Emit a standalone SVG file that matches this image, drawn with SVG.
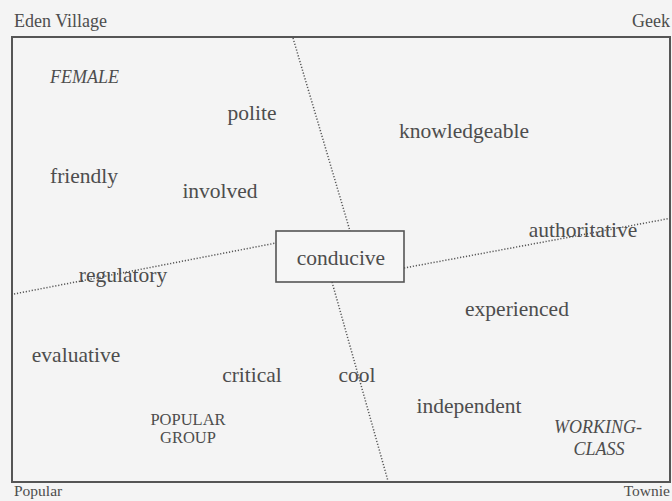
<svg xmlns="http://www.w3.org/2000/svg" width="672" height="501" viewBox="0 0 672 501">
  <style>
    .t { font-family: "Liberation Serif", "Times New Roman", serif; fill: #4d4d4d; }
    .corner { font-size: 18px; }
    .foot { font-size: 15.5px; }
    .word { font-size: 21.5px; }
    .cap { font-size: 16.5px; }
    .it { font-style: italic; font-size: 18px; }
    .dot { fill: none; stroke: #555; stroke-width: 1.5; stroke-dasharray: 1.2 1.8; }
    .frame { fill: none; stroke: #555; stroke-width: 2; }
    .box { fill: #f6f6f6; stroke: #555; stroke-width: 1.6; }
  </style>
  <rect x="0" y="0" width="672" height="501" fill="#f4f4f4"/>

  <!-- axis labels -->
  <text class="t corner" x="14" y="27">Eden Village</text>
  <text class="t corner" x="670" y="27" text-anchor="end">Geek</text>
  <text class="t foot" x="14" y="496">Popular</text>
  <text class="t foot" x="670" y="496" text-anchor="end">Townie</text>

  <rect class="frame" x="12" y="37" width="658" height="445"/>

  <!-- dotted axes -->
  <g id="connectors">
    <line class="dot" x1="293" y1="38" x2="350" y2="231"/>
    <line class="dot" x1="332" y1="282" x2="388" y2="481"/>
    <line class="dot" x1="14" y1="294" x2="276" y2="243"/>
    <line class="dot" x1="404" y1="268" x2="672" y2="218"/>
  </g>

  <g id="conducive">
    <rect class="box" x="276" y="231" width="128" height="51"/>
    <text class="t word" x="341" y="265" text-anchor="middle">conducive</text>
  </g>

  <g id="female"><text class="t it" x="50" y="83">FEMALE</text></g>
  <g id="polite"><text class="t word" x="252" y="120" text-anchor="middle">polite</text></g>
  <g id="knowledgeable"><text class="t word" x="464" y="138" text-anchor="middle">knowledgeable</text></g>
  <g id="friendly"><text class="t word" x="84" y="183" text-anchor="middle">friendly</text></g>
  <g id="involved"><text class="t word" x="220" y="198" text-anchor="middle">involved</text></g>
  <g id="authoritative"><text class="t word" x="583" y="237" text-anchor="middle">authoritative</text></g>
  <g id="regulatory"><text class="t word" x="123" y="282" text-anchor="middle">regulatory</text></g>
  <g id="experienced"><text class="t word" x="517" y="316" text-anchor="middle">experienced</text></g>
  <g id="evaluative"><text class="t word" x="76" y="362" text-anchor="middle">evaluative</text></g>
  <g id="critical"><text class="t word" x="252" y="382" text-anchor="middle">critical</text></g>
  <g id="cool"><text class="t word" x="357" y="382" text-anchor="middle">cool</text></g>
  <g id="independent"><text class="t word" x="469" y="413" text-anchor="middle">independent</text></g>
  <g id="popular-group">
    <text class="t cap" x="188" y="425" text-anchor="middle">POPULAR</text>
    <text class="t cap" x="188" y="443" text-anchor="middle">GROUP</text>
  </g>
  <g id="working-class">
    <text class="t it" x="598" y="433" text-anchor="middle">WORKING-</text>
    <text class="t it" x="599" y="455" text-anchor="middle">CLASS</text>
  </g>
</svg>
